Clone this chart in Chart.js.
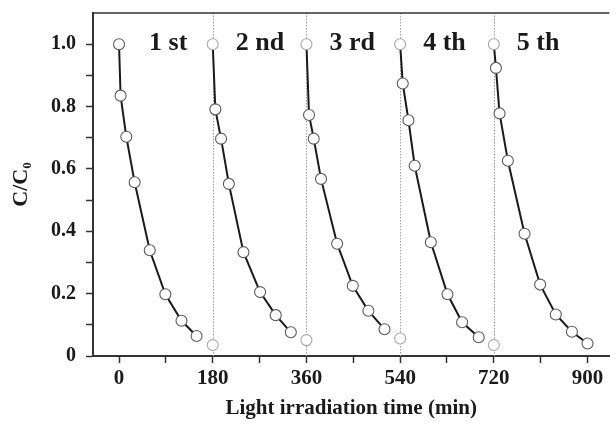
<!DOCTYPE html>
<html>
<head>
<meta charset="utf-8">
<script src="https://cdn.jsdelivr.net/npm/chart.js@4/dist/chart.umd.min.js"></script>
<style>
  body { margin: 0; background: #fff; }
  #wrap { width: 616px; height: 429px; }
</style>
</head>
<body>
<div id="wrap"><canvas id="cycleChart" width="616" height="429"></canvas></div>
<script>
// data (time in min, C/C0)
const cycle1X = [0, 3, 14, 30, 59, 89, 120, 149];
const cycle1Y = [1.0, 0.835, 0.703, 0.557, 0.339, 0.198, 0.113, 0.064];
const cycle2X = [180, 185, 196, 211, 239, 271, 301, 330];
const cycle2Y = [1.0, 0.791, 0.697, 0.552, 0.333, 0.205, 0.131, 0.076];
const cycle3X = [360, 365, 374, 388, 419, 449, 479, 510];
const cycle3Y = [1.0, 0.773, 0.697, 0.568, 0.360, 0.225, 0.145, 0.086];
const cycle4X = [540, 545, 556, 568, 599, 631, 659, 691];
const cycle4Y = [1.0, 0.874, 0.756, 0.610, 0.365, 0.198, 0.108, 0.060];
const cycle5X = [720, 724, 731, 747, 779, 809, 839, 870, 900];
const cycle5Y = [1.0, 0.924, 0.778, 0.626, 0.392, 0.229, 0.133, 0.078, 0.040];

// end-of-cycle samples sitting on the dotted separators
const endX = [180, 360, 540, 720];
const endY = [0.035, 0.051, 0.056, 0.035];

const cycleBounds = [180, 360, 540, 720];
const cycleStarts = [0, 180, 360, 540, 720];
const cycleNames = ["1 st", "2 nd", "3 rd", "4 th", "5 th"];

const xTicks = [0, 90, 180, 270, 360, 450, 540, 630, 720, 810, 900];
const yTicks = [0, 0.1, 0.2, 0.3, 0.4, 0.5, 0.6, 0.7, 0.8, 0.9, 1.0];

const SERIF = "'Liberation Serif', 'DejaVu Serif', serif";

const toPoints = (xs, ys) => xs.map((x, i) => ({ x, y: ys[i] }));
const edgeColor = ctx => (ctx.raw && cycleBounds.includes(ctx.raw.x)) ? "#a8a8a8" : "#5a5a5a";

function cycleSet(xs, ys) {
  return {
    data: toPoints(xs, ys),
    showLine: true,
    borderColor: "#1a1a1a",
    borderWidth: 2,
    pointRadius: 5.5,
    pointBorderWidth: 1.1,
    pointBorderColor: edgeColor,
    pointBackgroundColor: "#fff"
  };
}

const overlay = {
  id: "overlay",
  beforeDatasetsDraw(chart) {
    const { ctx, chartArea, scales: { x } } = chart;
    ctx.save();
    ctx.strokeStyle = "#a0a0a0";
    ctx.lineWidth = 1;
    ctx.setLineDash([1.5, 1.5]);
    cycleBounds.forEach(v => {
      const px = Math.round(x.getPixelForValue(v)) + 0.5;
      ctx.beginPath();
      ctx.moveTo(px, chartArea.top);
      ctx.lineTo(px, chartArea.bottom);
      ctx.stroke();
    });
    ctx.restore();
  },
  afterDraw(chart) {
    const { ctx, chartArea, scales: { x } } = chart;
    ctx.save();
    // top frame line
    ctx.strokeStyle = "#333";
    ctx.lineWidth = 1.5;
    ctx.beginPath();
    ctx.moveTo(chartArea.left, chartArea.top);
    ctx.lineTo(chartArea.right, chartArea.top);
    ctx.stroke();
    // cycle labels
    ctx.fillStyle = "#1a1a1a";
    ctx.font = "bold 26px " + SERIF;
    ctx.textAlign = "left";
    ctx.textBaseline = "alphabetic";
    cycleNames.forEach((name, i) => {
      const gap = i === 0 ? 30 : 23;
      ctx.fillText(name, x.getPixelForValue(cycleStarts[i]) + gap, 50);
    });
    ctx.restore();
  }
};

new Chart(document.getElementById("cycleChart"), {
  type: "scatter",
  data: {
    datasets: [
      cycleSet(cycle1X, cycle1Y),
      cycleSet(cycle2X, cycle2Y),
      cycleSet(cycle3X, cycle3Y),
      cycleSet(cycle4X, cycle4Y),
      cycleSet(cycle5X, cycle5Y),
      {
        data: toPoints(endX, endY),
        showLine: false,
        pointRadius: 5.5,
        pointBorderWidth: 1.1,
        pointBorderColor: "#a8a8a8",
        pointBackgroundColor: "#fff"
      }
    ]
  },
  options: {
    responsive: false,
    animation: false,
    layout: { padding: { top: 13, right: 0, bottom: 0, left: 0 } },
    plugins: {
      legend: { display: false },
      tooltip: { enabled: false }
    },
    scales: {
      x: {
        type: "linear",
        min: -50,
        max: 942,
        afterBuildTicks: scale => { scale.ticks = xTicks.map(v => ({ value: v })); },
        afterFit: scale => {
          scale.height = 73;
          scale.paddingLeft = 0;
          scale.paddingRight = 0;
        },
        border: { color: "#333", width: 2 },
        grid: { drawOnChartArea: false, drawTicks: true, tickLength: 7, tickColor: "#333", tickWidth: 1.5 },
        ticks: {
          autoSkip: false,
          maxRotation: 0,
          padding: 3,
          color: "#1a1a1a",
          font: { family: SERIF, size: 21, weight: "bold" },
          callback: v => (v % 180 === 0 ? String(v) : "")
        },
        title: {
          display: true,
          text: "Light irradiation time (min)",
          color: "#1a1a1a",
          font: { family: SERIF, size: 21, weight: "bold" },
          padding: { top: 0, bottom: 8 }
        }
      },
      y: {
        min: 0,
        max: 1.1,
        afterBuildTicks: scale => { scale.ticks = yTicks.map(v => ({ value: v })); },
        afterFit: scale => {
          scale.width = 93;
          scale.paddingTop = 0;
          scale.paddingBottom = 0;
        },
        border: { color: "#333", width: 2 },
        grid: { drawOnChartArea: false, drawTicks: true, tickLength: 7, tickColor: "#333", tickWidth: 1.5 },
        ticks: {
          autoSkip: false,
          padding: 10,
          color: "#1a1a1a",
          font: { family: SERIF, size: 20, weight: "bold" },
          callback: v => {
            const t = Math.round(v * 10);
            if (t % 2 !== 0) return "";
            return t === 0 ? "0" : (t / 10).toFixed(1);
          }
        },
        title: {
          display: true,
          text: "C/C\u2080",
          color: "#1a1a1a",
          font: { family: SERIF, size: 22, weight: "bold" },
          padding: { top: 8, bottom: 0 }
        }
      }
    }
  },
  plugins: [overlay]
});
</script>
</body>
</html>
